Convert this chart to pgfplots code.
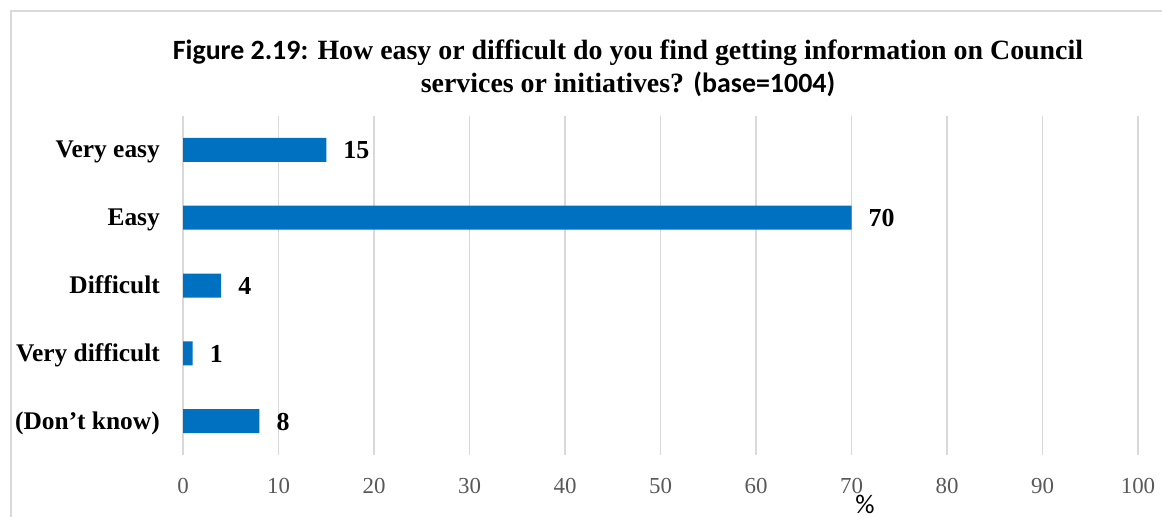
\documentclass[border=0pt]{standalone}
\usepackage{fontspec}
\setmainfont{Liberation Serif}
\newfontfamily\carl{Carlito}
\usepackage{pgfplots}
\pgfplotsset{compat=1.18}
\definecolor{barblue}{HTML}{0070C0}
\definecolor{gridgray}{HTML}{D9D9D9}
\definecolor{tickgray}{HTML}{595959}
\begin{document}
\begin{tikzpicture}
\useasboundingbox (0,0) rectangle (1162bp,517bp);
\draw[gridgray, line width=1.5bp] (11bp,0) -- (11bp,506bp) -- (1162bp,506bp);
\node[align=center, font=\bfseries\fontsize{28}{33}\selectfont, inner sep=0pt] at (628bp,449bp)
  {{\carl Figure 2.19:} How easy or difficult do you find getting information on Council\\
   services or initiatives? {\carl (base=1004)}};
\begin{axis}[
  at={(183bp,62bp)}, anchor=south west,
  scale only axis, width=955bp, height=339bp,
  xbar, bar width=24bp,
  xmin=0, xmax=100, ymin=-0.5, ymax=4.5, y dir=reverse,
  xtick={0,10,...,100},
  ytick={0,1,2,3,4},
  yticklabels={Very easy, Easy, Difficult, Very difficult, (Don’t know)},
  axis line style={draw=none},
  major tick length=0pt,
  xmajorgrids, ymajorgrids=false,
  major grid style={gridgray, line width=1.5bp},
  /pgf/number format/assume math mode=true,
  xticklabel style={font=\fontsize{23}{23}\selectfont, text=tickgray, anchor=north, inner sep=0pt, yshift=-23bp},
  yticklabel style={font=\bfseries\fontsize{25.5}{25.5}\selectfont, anchor=base east, inner sep=0pt, xshift=-23bp, yshift=-8bp},
  nodes near coords,
  every node near coord/.append style={anchor=base west, inner sep=0pt, xshift=17bp, yshift=-9bp, font=\bfseries\fontsize{26}{26}\selectfont, text=black},
  clip=false,
]
\addplot[fill=barblue, draw=none] coordinates {(15,0) (70,1) (4,2) (1,3) (8,4)};
\end{axis}
\node[anchor=base, font=\carl\fontsize{27}{27}\selectfont, inner sep=0pt] at (865bp,4bp) {\%};
\end{tikzpicture}
\end{document}
